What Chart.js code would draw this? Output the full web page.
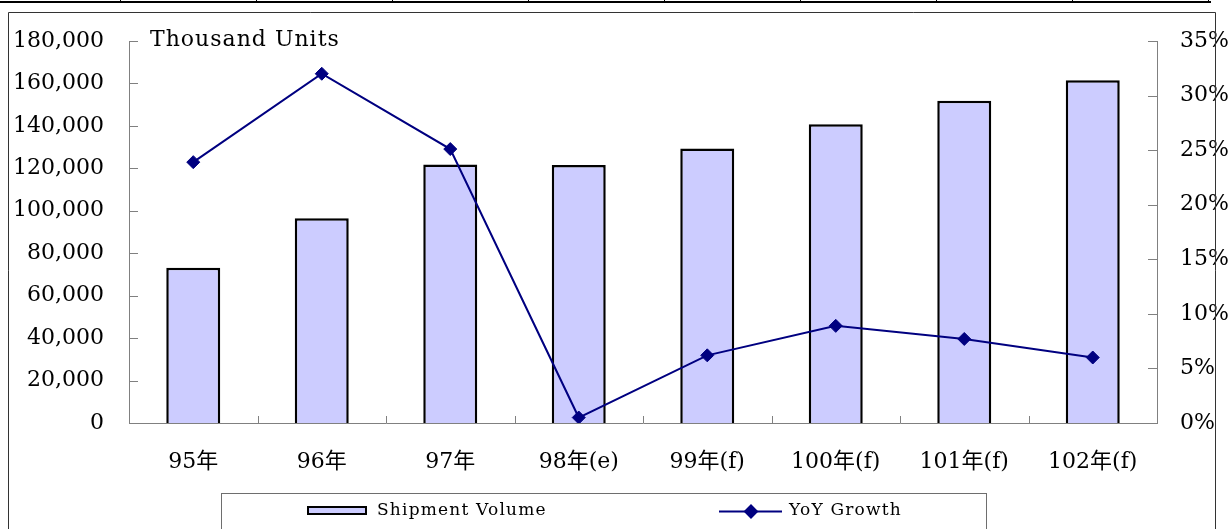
<!DOCTYPE html>
<html>
<head>
<meta charset="utf-8">
<script src="https://cdn.jsdelivr.net/npm/chart.js@4.4.1/dist/chart.umd.min.js"></script>
<style>
  html, body { margin: 0; padding: 0; background: #ffffff; }
  #wrap { position: relative; width: 1232px; height: 529px; }
  canvas { display: block; }
</style>
</head>
<body>
<div id="wrap"><canvas id="chart" width="1232" height="529"></canvas></div>
<script>
// Annual shipment volume (thousand units) and year-over-year growth (%)
const categories = ['95年', '96年', '97年', '98年(e)', '99年(f)', '100年(f)', '101年(f)', '102年(f)'];
const shipmentVolume = [73200, 96500, 121800, 121600, 129300, 140800, 151900, 161500];
const yoyGrowth = [23.9, 32.0, 25.1, 0.5, 6.2, 8.9, 7.7, 6.0];
const volumeTicks = [0, 20000, 40000, 60000, 80000, 100000, 120000, 140000, 160000, 180000];
const growthTicks = [0, 5, 10, 15, 20, 25, 30, 35];
const unitLabel = 'Thousand Units';
const seriesNames = ['Shipment Volume', 'YoY Growth'];

const SERIF = '"DejaVu Serif", "Noto Sans CJK TC", serif';
const AXIS_GREY = '#808080';
const BAR_FILL = '#ccccff';
const LINE_NAVY = '#000080';

function spacing(ctx, px) { ctx.letterSpacing = px + 'px'; }

// Excel-style inward tick marks, the unit caption, the legend and the frame
const decorations = {
  id: 'decorations',
  beforeLayout(chart) { spacing(chart.ctx, 0); },
  beforeDraw(chart) { spacing(chart.ctx, 0); },
  afterDraw(chart) {
    const ctx = chart.ctx;
    const x = chart.scales.x, y = chart.scales.y, y2 = chart.scales.y2;
    const area = chart.chartArea;
    ctx.save();
    ctx.strokeStyle = AXIS_GREY;
    ctx.lineWidth = 1;
    ctx.beginPath();
    volumeTicks.forEach(v => {
      const py = Math.round(y.getPixelForValue(v)) + 0.5;
      ctx.moveTo(area.left, py); ctx.lineTo(area.left + 9, py);
    });
    growthTicks.forEach(v => {
      const py = Math.round(y2.getPixelForValue(v)) + 0.5;
      ctx.moveTo(area.right - 9, py); ctx.lineTo(area.right, py);
    });
    for (let i = 1; i < categories.length; i++) {
      const px = Math.round(x.getPixelForValue(i - 0.5)) + 0.5;
      ctx.moveTo(px, area.bottom); ctx.lineTo(px, area.bottom - 7);
    }
    ctx.stroke();

    // unit caption
    ctx.fillStyle = '#000';
    ctx.font = '22px ' + SERIF;
    spacing(ctx, 1);
    ctx.textAlign = 'left';
    ctx.textBaseline = 'middle';
    ctx.fillText(unitLabel, 150, 40);

    // legend
    const bar = chart.data.datasets[0], line = chart.data.datasets[1];
    ctx.strokeStyle = '#6e6e6e';
    ctx.lineWidth = 1;
    ctx.strokeRect(221.5, 493.5, 765, 40);
    ctx.fillStyle = bar.backgroundColor;
    ctx.fillRect(308, 507, 58, 7);
    ctx.strokeStyle = bar.borderColor;
    ctx.lineWidth = 2;
    ctx.strokeRect(308, 507, 58, 7);
    ctx.fillStyle = '#000';
    ctx.font = '17px ' + SERIF;
    spacing(ctx, 1.2);
    ctx.fillText(seriesNames[0], 377, 511);

    ctx.strokeStyle = line.borderColor;
    ctx.lineWidth = 2;
    ctx.beginPath();
    ctx.moveTo(719, 511.5); ctx.lineTo(782, 511.5);
    ctx.stroke();
    Chart.helpers.drawPoint(ctx, { pointStyle: 'rectRot', radius: 6, borderWidth: 1 }, 751, 511.5);
    ctx.fillStyle = line.pointBackgroundColor;
    ctx.fill();
    ctx.fillStyle = '#000';
    ctx.fillText(seriesNames[1], 789, 511);

    // surrounding frame and the table rule above it
    ctx.strokeStyle = '#333';
    ctx.lineWidth = 1;
    ctx.beginPath();
    ctx.moveTo(8.5, 529); ctx.lineTo(8.5, 12.5); ctx.lineTo(1215.5, 12.5); ctx.lineTo(1215.5, 529);
    ctx.stroke();
    ctx.fillStyle = '#000';
    ctx.fillRect(0, 1, 1211, 2);
    [120, 256, 392, 528, 664, 800, 936, 1072, 1208].forEach(px => ctx.fillRect(px, 0, 1, 3));
    ctx.restore();
  }
};

const tickFont = { family: SERIF, size: 22 };

new Chart(document.getElementById('chart'), {
  data: {
    labels: categories,
    datasets: [
      {
        type: 'bar',
        label: seriesNames[0],
        data: shipmentVolume,
        yAxisID: 'y',
        backgroundColor: BAR_FILL,
        borderColor: '#000000',
        borderWidth: 2.5,
        categoryPercentage: 1,
        barPercentage: 0.42,
        order: 2
      },
      {
        type: 'line',
        label: seriesNames[1],
        data: yoyGrowth,
        yAxisID: 'y2',
        borderColor: LINE_NAVY,
        borderWidth: 2,
        pointStyle: 'rectRot',
        pointRadius: 6.5,
        pointBackgroundColor: LINE_NAVY,
        pointBorderColor: LINE_NAVY,
        pointBorderWidth: 1,
        tension: 0,
        order: 1
      }
    ]
  },
  options: {
    responsive: false,
    animation: false,
    devicePixelRatio: 1,
    layout: { padding: { left: 0, right: 0, top: 41, bottom: 0 } },
    plugins: { legend: { display: false }, tooltip: { enabled: false } },
    scales: {
      x: {
        grid: { display: false, drawTicks: false },
        border: { display: true, color: AXIS_GREY, width: 1 },
        ticks: { font: tickFont, color: '#000', padding: 26, maxRotation: 0, autoSkip: false },
        afterFit(s) { s.height = 106; }
      },
      y: {
        position: 'left',
        min: 0, max: 180000,
        grid: { display: false, drawTicks: false },
        border: { display: true, color: AXIS_GREY, width: 1 },
        afterBuildTicks(s) { s.ticks = volumeTicks.map(v => ({ value: v })); },
        ticks: {
          font: tickFont, color: '#000', padding: 25,
          callback: v => v.toLocaleString('en-US')
        },
        afterFit(s) { s.width = 129; }
      },
      y2: {
        position: 'right',
        min: 0, max: 35,
        grid: { display: false, drawTicks: false },
        border: { display: true, color: AXIS_GREY, width: 1 },
        afterBuildTicks(s) { s.ticks = growthTicks.map(v => ({ value: v })); },
        ticks: {
          font: tickFont, color: '#000', padding: 23,
          callback: v => v + '%'
        },
        afterFit(s) { s.width = 75; }
      }
    }
  },
  plugins: [decorations]
});
</script>
</body>
</html>
